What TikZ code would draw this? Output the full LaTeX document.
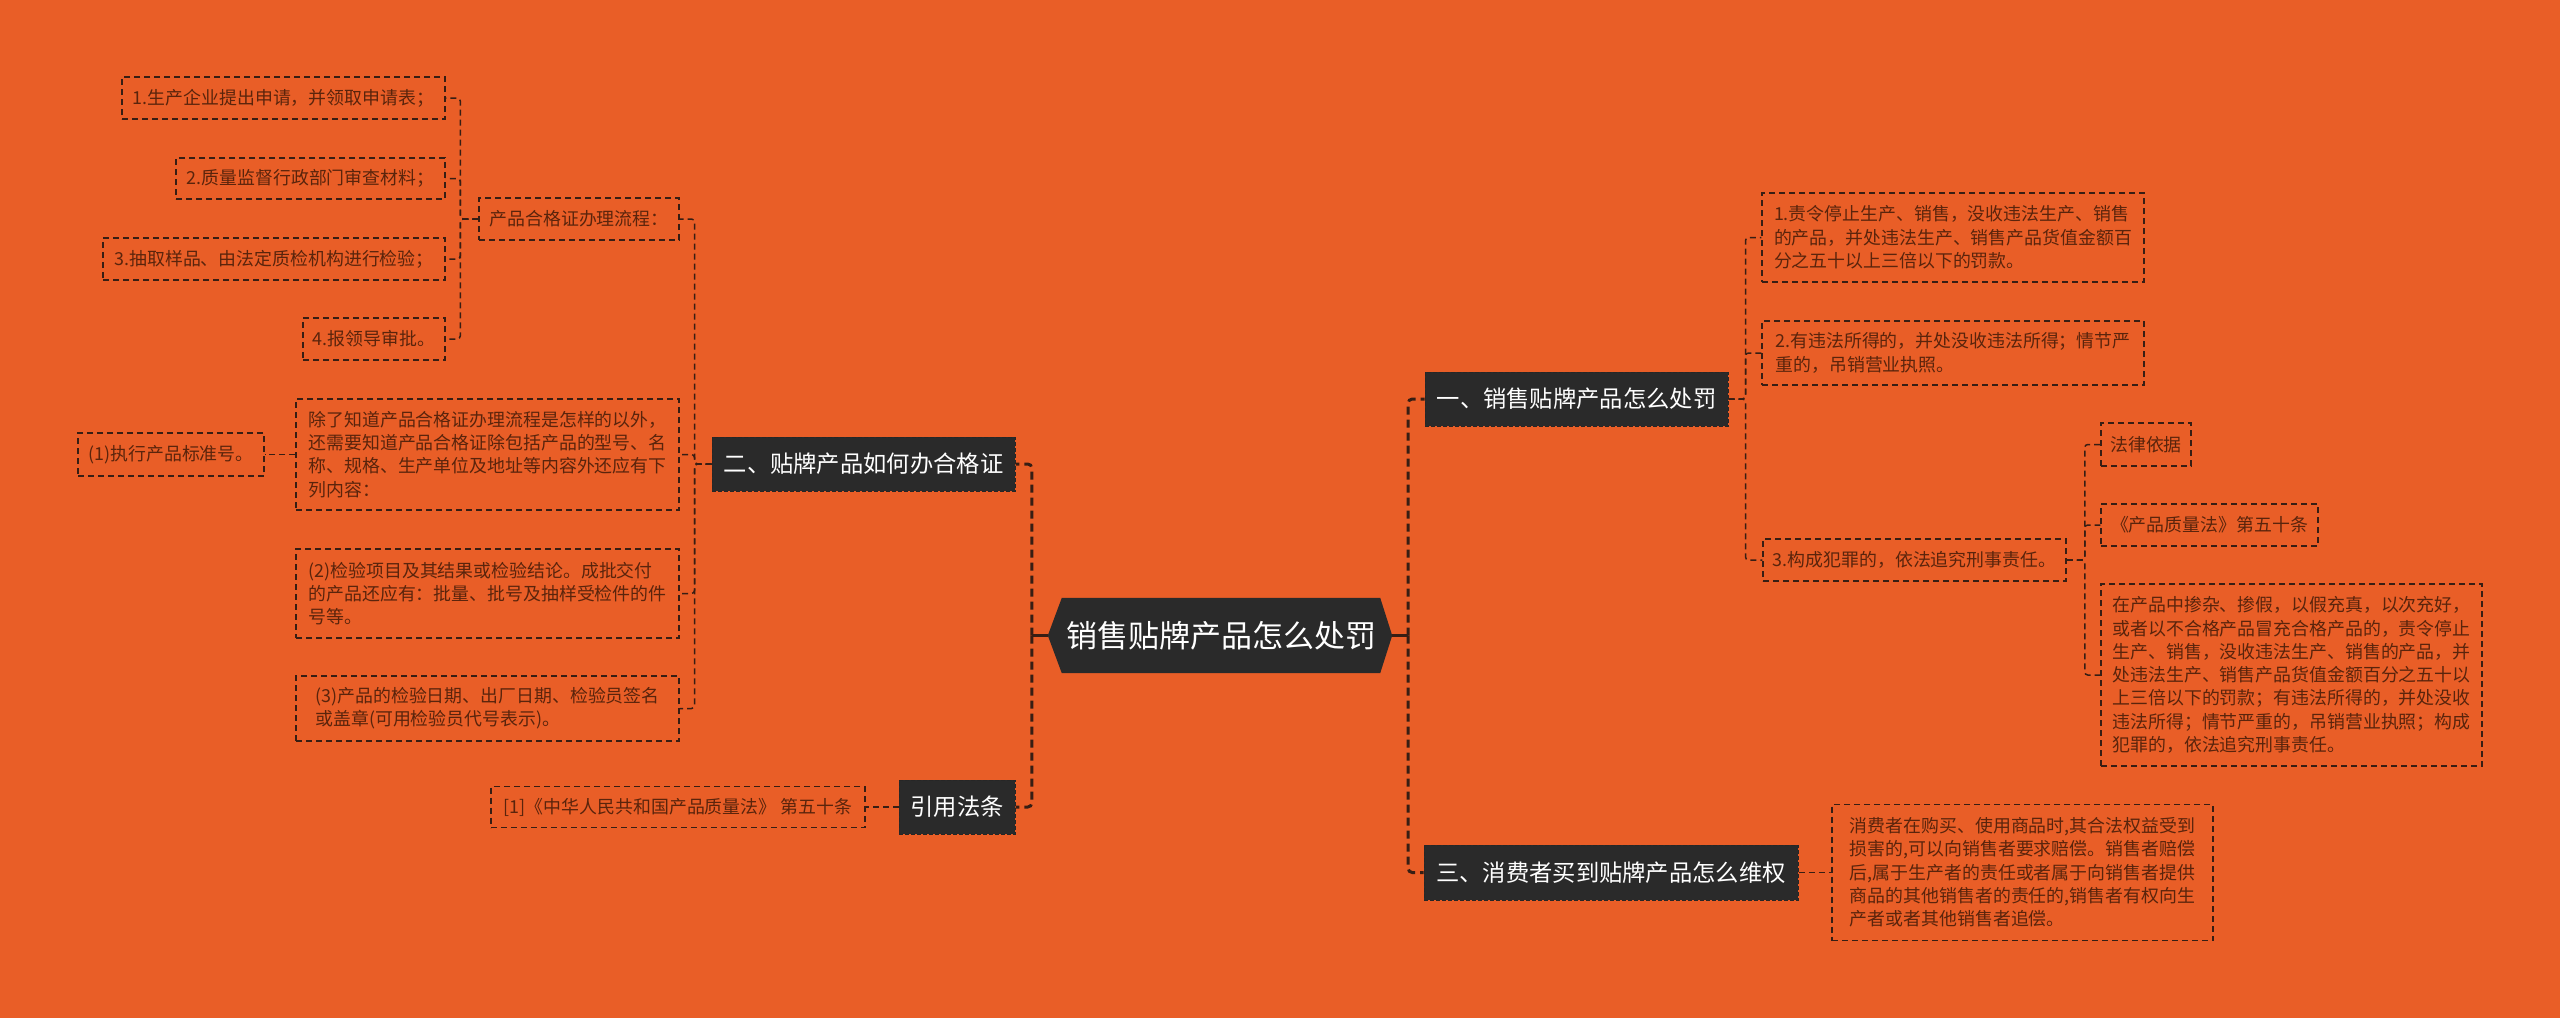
\documentclass[tikz,border=0pt]{standalone}
\usepackage{fontspec}
\newfontfamily\cjk{Noto Sans CJK SC}
\usetikzlibrary{backgrounds}
\definecolor{bgc}{RGB}{233,94,39}
\definecolor{darkc}{RGB}{42,42,42}
\definecolor{txtc}{RGB}{90,36,12}
\definecolor{linec}{RGB}{55,30,20}
\begin{document}
\begin{tikzpicture}[x=1pt,y=-1pt,
  leaf/.style={draw=linec, line width=1.5pt, dash pattern=on 6pt off 4pt, text=txtc,
    font=\cjk\fontsize{17.9}{23.3}\selectfont, align=left, inner sep=0pt},
  topic/.style={fill=darkc, draw=black!85, dash pattern=on 4pt off 2pt, line width=1pt,
    text=white, font=\cjk\fontsize{23.3}{28}\selectfont, inner sep=0pt},
  conn/.style={draw=linec, line width=1.5pt, dash pattern=on 6pt off 4pt, rounded corners=3pt},
  mainconn/.style={draw=linec, line width=3pt, dash pattern=on 8pt off 5pt, rounded corners=4pt},
  mainsolid/.style={draw=linec, line width=3pt},
]
\useasboundingbox (0,0) rectangle (2560,1018);

% centre
\node[text=white, font=\cjk\fontsize{31}{36}\selectfont, minimum width=318pt, minimum height=75pt, inner sep=0pt] (C) at (1221,635.5) {销售贴牌产品怎么处罚};
\coordinate (Cl) at ([xshift=-14pt]C.west);
\coordinate (Cr) at ([xshift=12pt]C.east);
\begin{scope}[on background layer]
\fill[bgc] (0,0) rectangle (2560,1018);
\fill[darkc] (C.north west) -- (C.north east) -- (Cr) -- (C.south east) -- (C.south west) -- (Cl) -- cycle;
\end{scope}

% left topics
\node[topic, minimum width=303pt, minimum height=54pt] (N2) at (863.5,464) {二、贴牌产品如何办合格证};
\node[topic, minimum width=116pt, minimum height=54pt] (N4) at (957,807) {引用法条};

\node[leaf, minimum width=200pt, minimum height=42pt] (P) at (579,219) {产品合格证办理流程：};
\node[leaf, minimum width=323pt, minimum height=42pt] (L1) at (283.5,98) {1.生产企业提出申请，并领取申请表；};
\node[leaf, minimum width=269pt, minimum height=41pt] (L2) at (310.5,178.5) {2.质量监督行政部门审查材料；};
\node[leaf, minimum width=342pt, minimum height=42pt] (L3) at (274,259) {3.抽取样品、由法定质检机构进行检验；};
\node[leaf, minimum width=142pt, minimum height=42pt] (L4) at (374,339) {4.报领导审批。};

\node[leaf, minimum width=383pt, minimum height=111pt] (B) at (487.5,454.5) {除了知道产品合格证办理流程是怎样的以外，\\还需要知道产品合格证除包括产品的型号、名\\称、规格、生产单位及地址等内容外还应有下\\列内容：};
\node[leaf, minimum width=186pt, minimum height=43pt] (C1) at (171,454.5) {(1)执行产品标准号。};
\node[leaf, minimum width=383pt, minimum height=89pt] (C2) at (487.5,593.5) {(2)检验项目及其结果或检验结论。成批交付\\的产品还应有：批量、批号及抽样受检件的件\\号等。};
\node[leaf, minimum width=383pt, minimum height=65pt] (C3) at (487.5,708.5) {(3)产品的检验日期、出厂日期、检验员签名\\或盖章(可用检验员代号表示)。};

\node[leaf, minimum width=374pt, minimum height=41pt] (R1) at (678,807) {[1]《中华人民共和国产品质量法》 第五十条};

% right topics
\node[topic, minimum width=303pt, minimum height=54pt] (N1) at (1576.5,399) {一、销售贴牌产品怎么处罚};
\node[topic, minimum width=374pt, minimum height=55pt] (N3) at (1611,872.5) {三、消费者买到贴牌产品怎么维权};

\node[leaf, minimum width=382pt, minimum height=89pt] (A1) at (1953,237.5) {1.责令停止生产、销售，没收违法生产、销售\\的产品，并处违法生产、销售产品货值金额百\\分之五十以上三倍以下的罚款。};
\node[leaf, minimum width=382pt, minimum height=64pt] (A2) at (1953,353) {2.有违法所得的，并处没收违法所得；情节严\\重的，吊销营业执照。};
\node[leaf, minimum width=303pt, minimum height=42pt] (A3) at (1914.5,560) {3.构成犯罪的，依法追究刑事责任。};

\node[leaf, minimum width=90pt, minimum height=43pt] (B1) at (2146,444.5) {法律依据};
\node[leaf, minimum width=217pt, minimum height=42pt] (B2) at (2209.5,525) {《产品质量法》第五十条};
\node[leaf, minimum width=381pt, minimum height=182pt] (B3) at (2291.5,675) {在产品中掺杂、掺假，以假充真，以次充好，\\或者以不合格产品冒充合格产品的，责令停止\\生产、销售，没收违法生产、销售的产品，并\\处违法生产、销售产品货值金额百分之五十以\\上三倍以下的罚款；有违法所得的，并处没收\\违法所得；情节严重的，吊销营业执照；构成\\犯罪的，依法追究刑事责任。};

\node[leaf, minimum width=381pt, minimum height=136pt] (D1) at (2022.5,872.5) {消费者在购买、使用商品时,其合法权益受到\\损害的,可以向销售者要求赔偿。销售者赔偿\\后,属于生产者的责任或者属于向销售者提供\\商品的其他销售者的责任的,销售者有权向生\\产者或者其他销售者追偿。};

% main connectors
\draw[mainsolid] (Cl) -- ++(-16,0);
\draw[mainconn] (Cl) ++(-16,0) |- (N2.east);
\draw[mainconn] (Cl) ++(-16,0) |- (N4.east);
\draw[mainsolid] (Cr) -- ++(16,0);
\draw[mainconn] (Cr) ++(16,0) |- (N1.west);
\draw[mainconn] (Cr) ++(16,0) |- (N3.west);

% left connectors
\foreach \t in {P,B,C2,C3} \draw[conn] (N2.west) -- ++(-17,0) |- (\t.east);
\foreach \t in {L1,L2,L3,L4} \draw[conn] (P.west) -- ++(-18,0) |- (\t.east);
\draw[conn] (B.west) -- (C1.east);
\draw[conn] (N4.west) -- (R1.east);

% right connectors
\foreach \t in {A1,A2,A3} \draw[conn] (N1.east) -- ++(17,0) |- (\t.west);
\foreach \t in {B1,B2,B3} \draw[conn] (A3.east) -- ++(18,0) |- (\t.west);
\draw[conn] (N3.east) -- (D1.west);
\end{tikzpicture}
\end{document}
